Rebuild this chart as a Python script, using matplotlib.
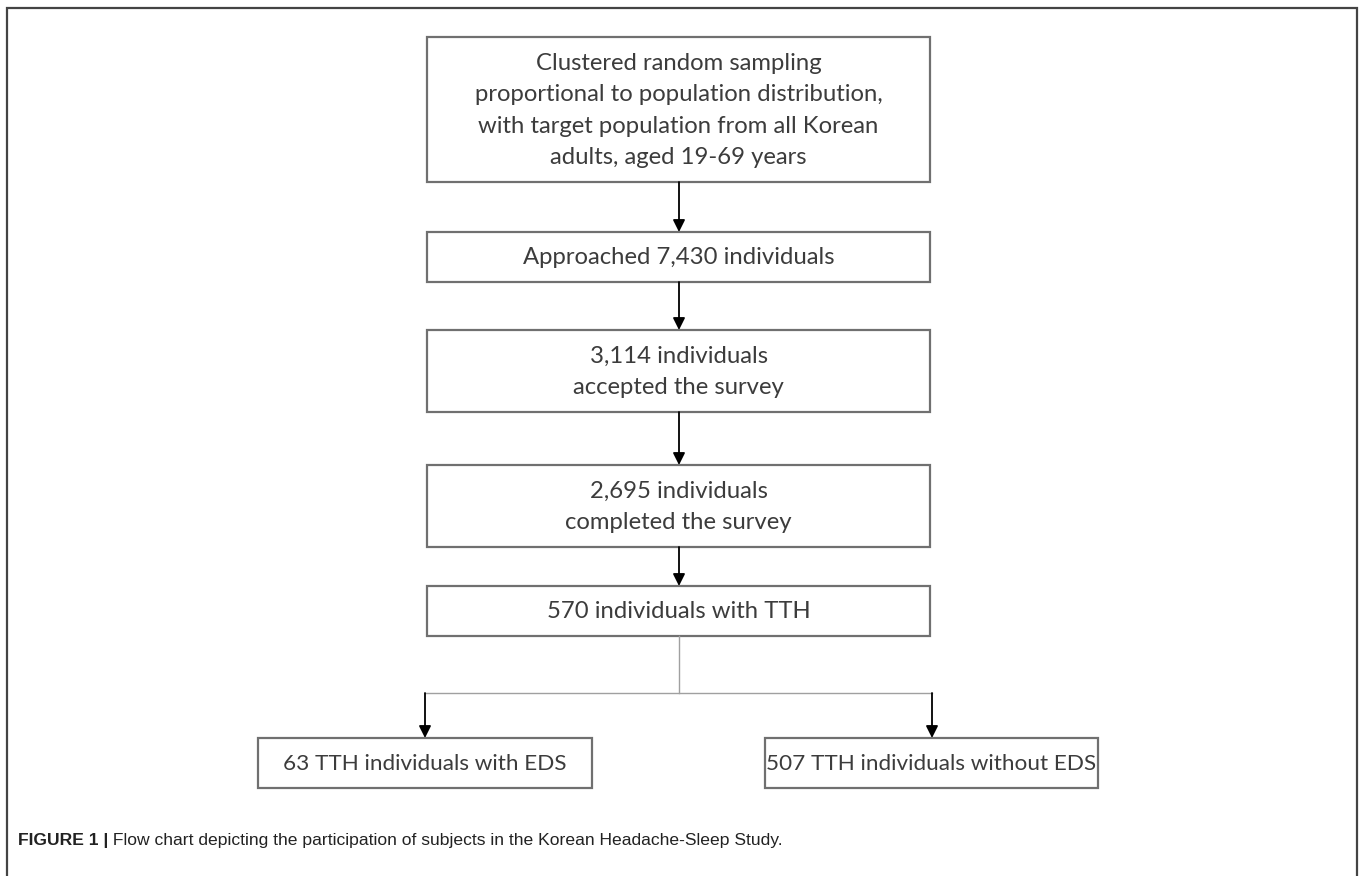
import matplotlib.pyplot as plt
from matplotlib.patches import Rectangle

# Box texts of the flow chart, top to bottom
main_steps = [
    "Clustered random sampling\nproportional to population distribution,\nwith target population from all Korean\nadults, aged 19-69 years",
    "Approached 7,430 individuals",
    "3,114 individuals\naccepted the survey",
    "2,695 individuals\ncompleted the survey",
    "570 individuals with TTH",
]
split_steps = ["63 TTH individuals with EDS", "507 TTH individuals without EDS"]
caption_bold = "FIGURE 1 |"
caption_text = " Flow chart depicting the participation of subjects in the Korean Headache-Sleep Study."

W, H = 1359, 876
fig = plt.figure(figsize=(W / 100, H / 100), dpi=100)
ax = fig.add_axes([0, 0, 1, 1])
ax.set_xlim(0, W)
ax.set_ylim(H, 0)
ax.axis("off")

box_font = dict(family=["Lato", "DejaVu Sans"], color="#3c3c3c")
edge = "#707070"

# outer frame (bottom edge falls outside the picture)
ax.plot([7, 7, 1357, 1357], [H + 5, 8, 8, H + 5], color="#444444", lw=1.6,
        solid_joinstyle="miter")

def box(x0, y0, x1, y1, text, size=17.2):
    ax.add_patch(Rectangle((x0, y0), x1 - x0, y1 - y0, fill=False,
                           edgecolor=edge, lw=1.6))
    ax.text((x0 + x1) / 2, (y0 + y1) / 2 + 1, text, ha="center", va="center",
            linespacing=1.6, fontsize=size, **box_font)

def arrow(x, y0, y1, color="black", lw=1.3):
    ax.annotate("", xy=(x, y1), xytext=(x, y0),
                arrowprops=dict(arrowstyle="-|>", color=color, lw=lw,
                                mutation_scale=18, shrinkA=0, shrinkB=0))

# vertical layout of the main column (pixel rows)
rows = [(37, 182), (232, 282), (330, 412), (465, 547), (586, 636)]
bx0, bx1 = 427, 930
cx = 679
for i, (text, (y0, y1)) in enumerate(zip(main_steps, rows)):
    box(bx0, y0, bx1, y1, text)
    if i + 1 < len(rows):
        arrow(cx, y1, rows[i + 1][0])

# split into two branches
split_y = 693
ax.plot([cx, cx], [rows[-1][1], split_y], color="#a0a0a0", lw=1.0)
ax.plot([425, 932], [split_y, split_y], color="#a0a0a0", lw=1.0)
left_box = (258, 738, 592, 788)
right_box = (765, 738, 1098, 788)
arrow(425, split_y, left_box[1])
arrow(932, split_y, right_box[1])
box(*left_box, split_steps[0], size=16.2)
box(*right_box, split_steps[1], size=16.2)

# caption
cap_font = ["Liberation Sans Narrow", "Liberation Sans", "DejaVu Sans"]
t = ax.text(18, 840, caption_bold, ha="left", va="center", fontsize=12.6,
            fontweight="bold", family=cap_font, color="#222222")
fig.canvas.draw()
bb = t.get_window_extent()
ax.text(18 + bb.width, 840, caption_text, ha="left", va="center", fontsize=12.6,
        family=cap_font, color="#222222")

fig.savefig("out.png", dpi=100)
